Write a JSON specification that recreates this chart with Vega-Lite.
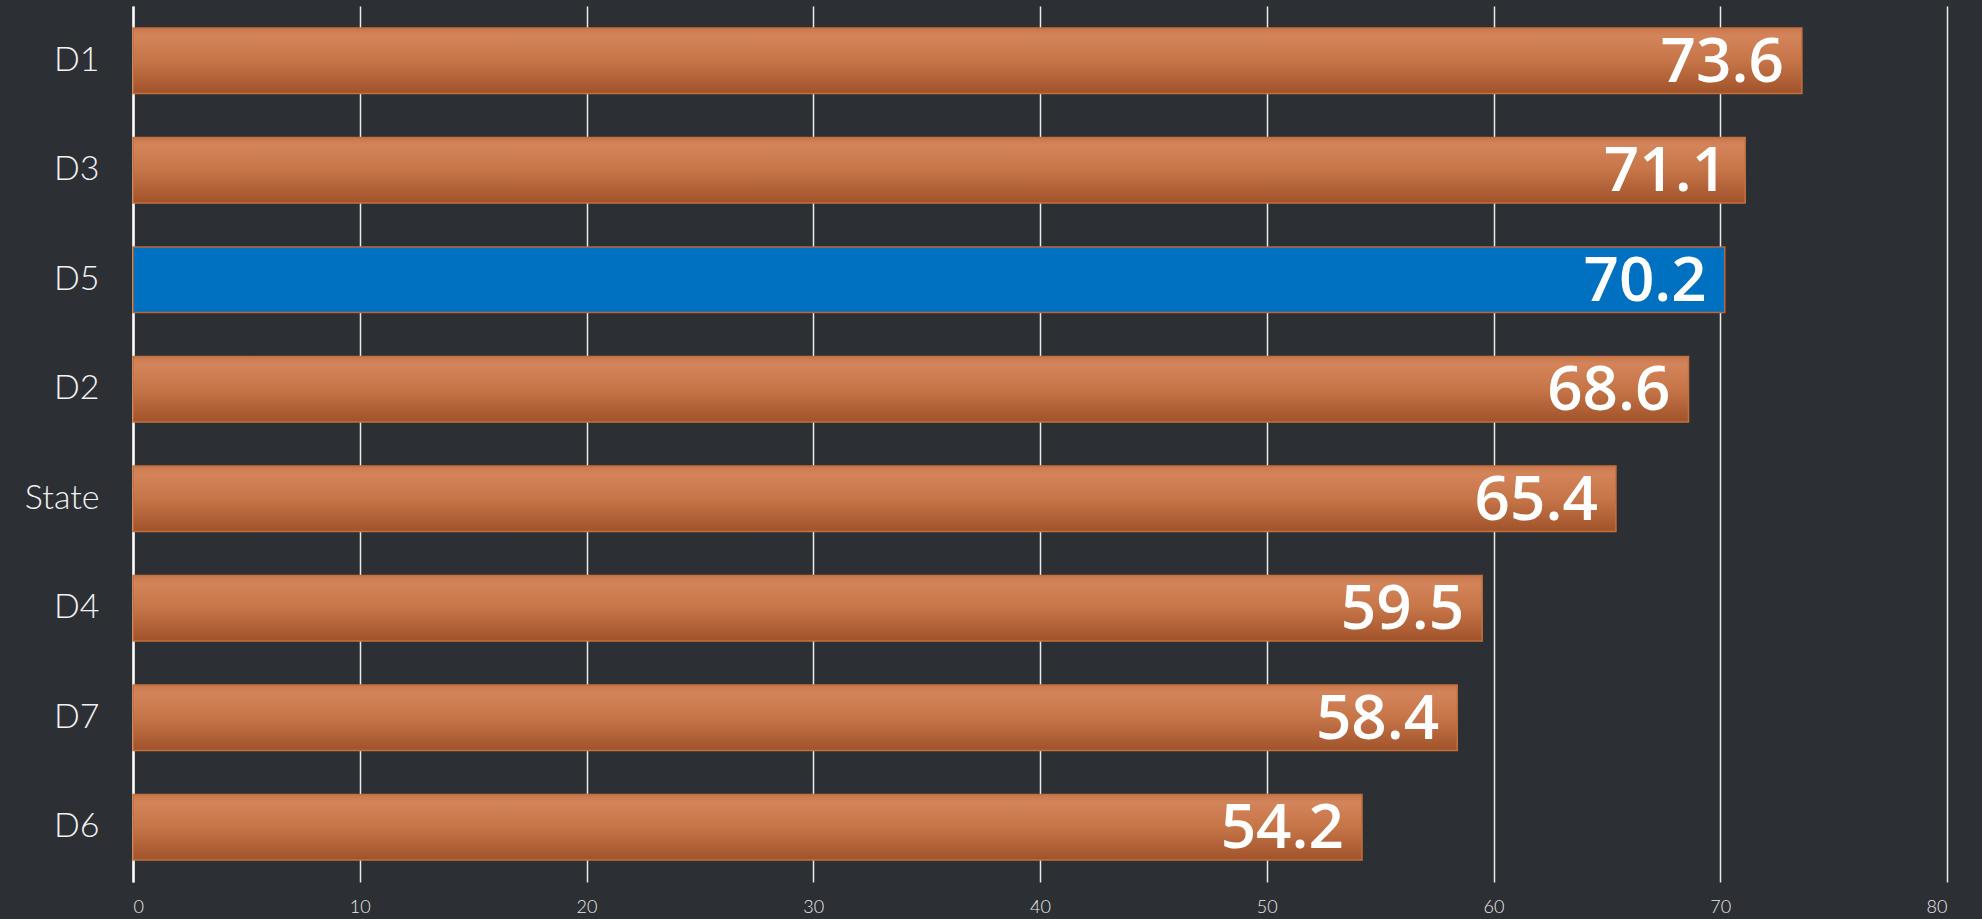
{
  "$schema": "https://vega.github.io/schema/vega-lite/v6.json",
  "width": 1814,
  "height": 876,
  "autosize": {"type": "none"},
  "padding": {"left": 133, "top": 6, "right": 35, "bottom": 37},
  "background": "#2c2f34",
  "config": {
    "view": {"stroke": null},
    "font": "Open Sans"
  },
  "data": {
    "values": [
      {"region": "D1", "value": 73.6, "highlight": "no"},
      {"region": "D3", "value": 71.1, "highlight": "no"},
      {"region": "D5", "value": 70.2, "highlight": "yes"},
      {"region": "D2", "value": 68.6, "highlight": "no"},
      {"region": "State", "value": 65.4, "highlight": "no"},
      {"region": "D4", "value": 59.5, "highlight": "no"},
      {"region": "D7", "value": 58.4, "highlight": "no"},
      {"region": "D6", "value": 54.2, "highlight": "no"}
    ]
  },
  "encoding": {
    "y": {
      "field": "region",
      "type": "nominal",
      "sort": ["D1", "D3", "D5", "D2", "State", "D4", "D7", "D6"],
      "scale": {"paddingInner": 0.4, "paddingOuter": 0.2},
      "axis": {
        "title": null,
        "labelFont": "Lato",
        "labelFontWeight": 300,
        "labelFontSize": 34,
        "labelColor": "#f2f2f2",
        "labelPadding": 34,
        "ticks": false,
        "domain": true,
        "domainColor": "#ffffff",
        "domainWidth": 2.5,
        "grid": false
      }
    },
    "x": {
      "field": "value",
      "type": "quantitative",
      "scale": {"domain": [0, 80], "nice": false},
      "axis": {
        "title": null,
        "values": [0, 10, 20, 30, 40, 50, 60, 70, 80],
        "labelFont": "Lato",
        "labelFontWeight": 300,
        "labelFontSize": 18,
        "labelColor": "#e8e8e8",
        "labelPadding": 16,
        "ticks": false,
        "domain": false,
        "grid": true,
        "gridColor": "#ffffff",
        "gridWidth": 1.5,
        "gridOpacity": 0.9
      }
    }
  },
  "layer": [
    {
      "transform": [{"filter": "datum.highlight == 'no'"}],
      "mark": {
        "type": "bar",
        "stroke": "#c4703c",
        "strokeWidth": 1.5,
        "color": {
          "gradient": "linear",
          "x1": 0, "y1": 0, "x2": 0, "y2": 1,
          "stops": [
            {"offset": 0, "color": "#c8784c"},
            {"offset": 0.12, "color": "#d4845a"},
            {"offset": 0.5, "color": "#c67548"},
            {"offset": 1, "color": "#a0522a"}
          ]
        }
      }
    },
    {
      "transform": [{"filter": "datum.highlight == 'yes'"}],
      "mark": {
        "type": "bar",
        "color": "#0070c0",
        "stroke": "#b8693a",
        "strokeWidth": 1.5
      }
    },
    {
      "mark": {
        "type": "text",
        "align": "right",
        "baseline": "middle",
        "dx": -18,
        "dy": 2,
        "font": "Open Sans",
        "fontSize": 62,
        "fontWeight": 600,
        "color": "#ffffff"
      },
      "encoding": {
        "text": {"field": "value", "type": "quantitative", "format": ".1f"}
      }
    }
  ]
}
